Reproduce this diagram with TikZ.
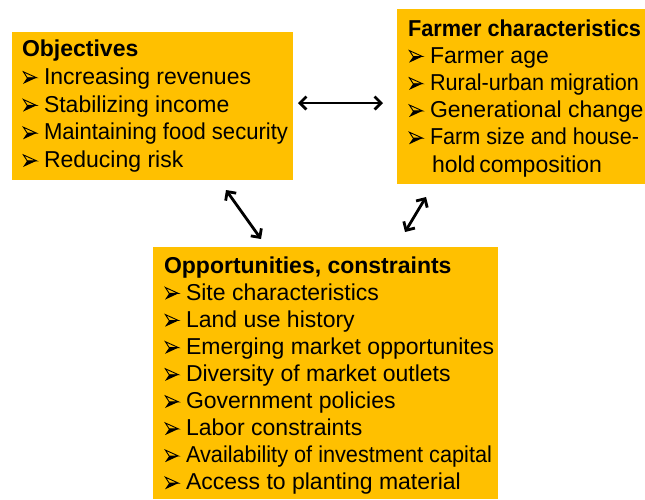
\documentclass[tikz,border=0pt]{standalone}
\usepackage{fontspec}
\usepackage{graphicx}
\setmainfont{Liberation Sans}
\usetikzlibrary{arrows.meta}
\definecolor{boxfill}{HTML}{FFC000}
\newcommand{\blt}{\hspace*{22pt}}
\newcommand{\fitw}[2]{\resizebox{#1}{\height}{#2}}
\begin{document}
\begin{tikzpicture}[x=1pt,y=-1pt,
  panel/.style={fill=boxfill, draw=none, inner sep=0pt, outer sep=0pt, anchor=north west},
  txt/.style={anchor=base west, inner sep=0pt, outer sep=0pt},
  bltpic/.pic={\fill (0,-0.5) -- (13.5,-6.7) -- (4.2,-6.7) -- cycle;
    \draw[line width=0.9pt, line join=miter] (0.4,-12.6) -- (13.5,-6.7) -- (4.2,-6.7) -- cycle;},
  dbl/.style={{Straight Barb[length=6.5pt,width=13pt,line width=2.8pt]}-{Straight Barb[length=6.5pt,width=13pt,line width=2.8pt]}, line width=2.8pt}]
\useasboundingbox (0,0) rectangle (645,499);
\node[panel, minimum width=281pt, minimum height=148pt] (obj) at (12,32) {};
\node[panel, minimum width=248pt, minimum height=175pt] (farm) at (397,9) {};
\node[panel, minimum width=345pt, minimum height=252pt] (opp) at (153,247) {};
\node[txt] (objtxt) at (22,56.7) {\parbox[t]{270pt}{\fontsize{23}{27.7}\selectfont
  \textbf{Objectives}\\
  \blt Increasing revenues\\
  \blt Stabilizing income\\
  \blt \fitw{244pt}{Maintaining food security}\\
  \blt Reducing risk}};
\node[txt] (farmtxt) at (408,36) {\parbox[t]{240pt}{\fontsize{23}{27.2}\selectfont
  \fitw{233pt}{\textbf{Farmer characteristics}}\\
  \blt Farmer age\\
  \blt \fitw{209pt}{Rural-urban migration}\\
  \blt Generational change\\
  \blt \fitw{209pt}{Farm size and house-}\\
  \hspace*{24pt}hold\,composition}};
\node[txt] (opptxt) at (164,273) {\parbox[t]{340pt}{\fontsize{23}{27.1}\selectfont
  \textbf{Opportunities, constraints}\\
  \blt Site characteristics\\
  \blt Land use history\\
  \blt Emerging market opportunites\\
  \blt Diversity of market outlets\\
  \blt Government policies\\
  \blt Labor constraints\\
  \blt \fitw{306pt}{Availability of investment capital}\\
  \blt Access to planting material}};
\foreach \k in {1,...,4} {\pic at (23,{56.7+27.7*\k}) {bltpic};}
\foreach \k in {1,...,4} {\pic at (409,{36+27.2*\k}) {bltpic};}
\foreach \k in {1,...,8} {\pic at (165,{273+27.1*\k}) {bltpic};}
\coordinate (h1) at (298,103);
\coordinate (h2) at (383,103);
\coordinate (l1) at (226,190);
\coordinate (l2) at (261,239);
\coordinate (r1) at (426,197);
\coordinate (r2) at (405,232);
\draw[dbl] (h1) -- (h2);
\draw[dbl] (l1) -- (l2);
\draw[dbl] (r1) -- (r2);
\end{tikzpicture}
\end{document}
